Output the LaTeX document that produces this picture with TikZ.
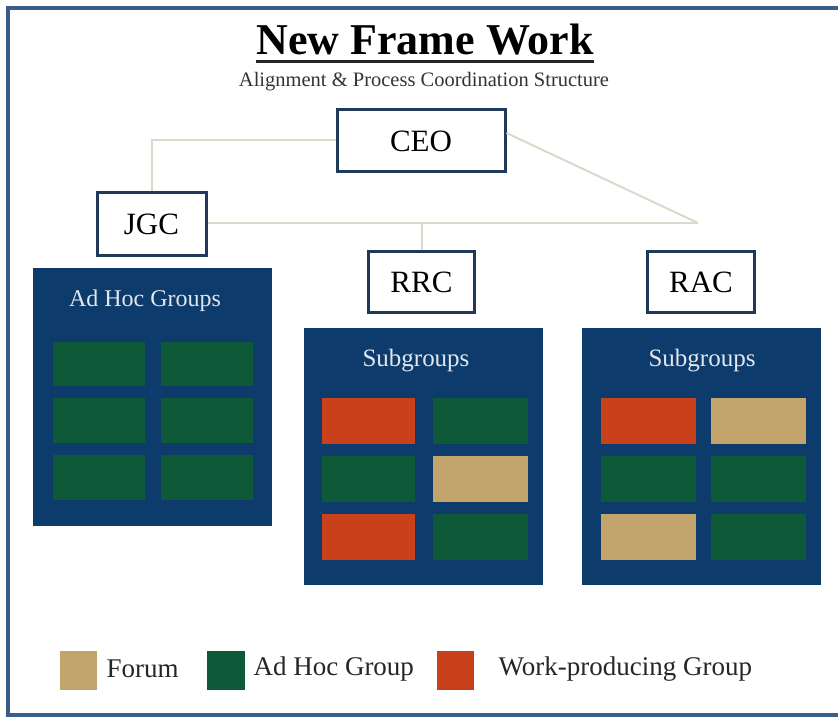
\documentclass[tikz,border=0pt]{standalone}
\usepackage{fontspec}
\setmainfont{Liberation Serif}
\definecolor{navy}{HTML}{0C3B6C}
\definecolor{framec}{HTML}{3A5E88}
\definecolor{boxline}{HTML}{1E3A58}
\definecolor{grp}{HTML}{0E5A38}
\definecolor{wrk}{HTML}{C9411B}
\definecolor{frm}{HTML}{C2A46C}
\definecolor{conn}{HTML}{D9D9CC}
\definecolor{paneltext}{HTML}{E2E6EE}
\tikzset{
  orgbox/.style={draw=boxline, line width=3pt, fill=white, inner sep=0pt,
    font=\fontsize{31}{36}\selectfont},
  panel/.style={fill=navy, draw=none},
  conline/.style={draw=conn, line width=2pt},
  paneltitle/.style={text=paneltext, font=\fontsize{24}{28}\selectfont},
  legtext/.style={anchor=west, font=\fontsize{27}{31}\selectfont, text=black!85}
}
\begin{document}
\begin{tikzpicture}[x=1pt,y=-1pt]
\useasboundingbox (0,0) rectangle (838,719);
% outer frame
\draw[framec, line width=4pt] (838,8) -- (8,8) -- (8,715) -- (838,715);

% title
\node[anchor=base, font=\bfseries\fontsize{44}{50}\selectfont, inner sep=0pt] (title) at (425,55) {New Frame Work};
\draw[black!85, line width=3pt] ([yshift=-7pt]title.base west) -- ([yshift=-7pt]title.base east);
\node[font=\fontsize{20.5}{24}\selectfont, text=black!80] (subtitle) at (424,82) {Alignment \& Process Coordination Structure};

% org boxes
\node[orgbox, minimum width=168pt, minimum height=62pt] (ceo) at (421,141) {CEO};
\node[orgbox, minimum width=109pt, minimum height=63pt] (jgc) at (151.5,224.5) {JGC};
\node[orgbox, minimum width=106pt, minimum height=61pt] (rrc) at (421.5,282.5) {RRC};
\node[orgbox, minimum width=107pt, minimum height=61pt] (rac) at (701,282.5) {RAC};

% connectors
\coordinate (jn) at (698,223);
\draw[conline] (ceo.west |- 0,140) -| (jgc.north);
\draw[conline] (jgc.east |- jn) -- (jn);
\draw[conline] ([yshift=8pt]ceo.east) -- (jn);
\draw[conline] (rrc.north) -- (rrc.north |- jn);

% panels
\fill[panel] (33,268) rectangle (272,526);
\node[paneltitle] (adhoc) at (145,301) {Ad Hoc Groups};
\fill[panel] (304,328) rectangle (543,585);
\node[paneltitle, font=\fontsize{25}{29}\selectfont] (subA) at (416,361) {Subgroups};
\fill[panel] (582,328) rectangle (821,585);
\node[paneltitle, font=\fontsize{25}{29}\selectfont] (subB) at (702,361) {Subgroups};

% JGC panel cells
\foreach \ya/\yb in {342/386, 398/443, 455/500}{
  \fill[grp] (53,\ya) rectangle (145,\yb);
  \fill[grp] (161,\ya) rectangle (253,\yb);
}
% RRC cells
\fill[wrk] (322,398) rectangle (415,444);
\fill[grp] (433,398) rectangle (528,444);
\fill[grp] (322,456) rectangle (415,502);
\fill[frm] (433,456) rectangle (528,502);
\fill[wrk] (322,514) rectangle (415,560);
\fill[grp] (433,514) rectangle (528,560);
% RAC cells
\fill[wrk] (601,398) rectangle (696,444);
\fill[frm] (711,398) rectangle (806,444);
\fill[grp] (601,456) rectangle (696,502);
\fill[grp] (711,456) rectangle (806,502);
\fill[frm] (601,514) rectangle (696,560);
\fill[grp] (711,514) rectangle (806,560);

% legend
\fill[frm] (60,651) rectangle (97,690);
\node[legtext] (lforum) at (103,669) {Forum};
\fill[grp] (207,651) rectangle (245,690);
\node[legtext] (ladhoc) at (250,669) {Ad Hoc Group};
\fill[wrk] (437,651) rectangle (474,690);
\node[legtext] (lwork) at (495,669) {Work-producing Group};
\end{tikzpicture}
\end{document}
